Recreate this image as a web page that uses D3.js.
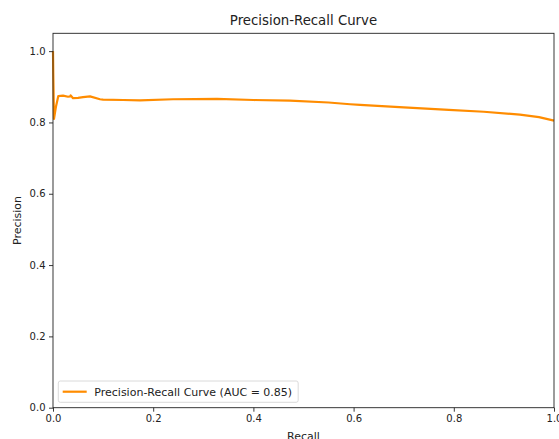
<!DOCTYPE html>
<html>
<head>
<meta charset="utf-8">
<script src="https://cdn.jsdelivr.net/npm/d3@7"></script>
<style>
  html, body { margin: 0; padding: 0; background: #fff; }
  svg { display: block; font-family: "DejaVu Sans", sans-serif; }
</style>
</head>
<body>
<svg id="chart" width="559" height="439"></svg>
<script>
// Curve points
const recall = [0, 0.0005, 0.002, 0.006, 0.0106, 0.02, 0.03, 0.035, 0.0353, 0.04, 0.05, 0.06, 0.0739, 0.0938, 0.1, 0.14, 0.1737, 0.2395, 0.3273, 0.4, 0.473, 0.55, 0.593, 0.613, 0.7, 0.79, 0.86, 0.932, 0.97, 1.0];
const precision = [1.0, 0.94, 0.81, 0.845, 0.874, 0.875, 0.872, 0.873, 0.876, 0.868, 0.869, 0.871, 0.873, 0.865, 0.864, 0.863, 0.862, 0.865, 0.866, 0.863, 0.861, 0.856, 0.851, 0.849, 0.842, 0.835, 0.83, 0.822, 0.815, 0.805];
const xTicks = [0.0, 0.2, 0.4, 0.6, 0.8, 1.0];
const yTicks = [0.0, 0.2, 0.4, 0.6, 0.8, 1.0];
const legendLabel = 'Precision-Recall Curve (AUC = 0.85)';

const svg = d3.select('#chart');
const margin = { left: 53, right: 5, top: 33.3, bottom: 31.3 };
const W = 559, H = 439;
const iw = W - margin.left - margin.right;
const ih = H - margin.top - margin.bottom;

const x = d3.scaleLinear().domain([0, 1]).range([margin.left, margin.left + iw]);
const y = d3.scaleLinear().domain([0, 1.05]).range([margin.top + ih, margin.top]);

// curve
const pts = recall.map((r, i) => [r, precision[i]]);
svg.append('path')
  .datum(pts)
  .attr('fill', 'none')
  .attr('stroke', '#ff8c00')
  .attr('stroke-width', 2.2)
  .attr('stroke-linejoin', 'round')
  .attr('d', d3.line().x(d => x(d[0])).y(d => y(d[1])));

// axes
const xAxis = d3.axisBottom(x).tickValues(xTicks).tickFormat(d3.format('.1f')).tickSize(4).tickPadding(3.5);
const yAxis = d3.axisLeft(y).tickValues(yTicks).tickFormat(d3.format('.1f')).tickSize(4).tickPadding(3.5);

const gx = svg.append('g').attr('transform', `translate(0,${margin.top + ih})`).call(xAxis);
const gy = svg.append('g').attr('transform', `translate(${margin.left},0)`).call(yAxis);
[gx, gy].forEach(a => {
  a.select('.domain').remove();
  a.selectAll('text').attr('font-size', 10).attr('fill', '#222').attr('font-family', 'DejaVu Sans');
  a.selectAll('line').attr('stroke', '#222').attr('stroke-width', 0.9);
});

// frame
svg.append('rect')
  .attr('x', margin.left).attr('y', margin.top)
  .attr('width', iw).attr('height', ih)
  .attr('fill', 'none').attr('stroke', '#222').attr('stroke-width', 0.9);

// title and labels
svg.append('text')
  .attr('x', margin.left + iw / 2).attr('y', 25)
  .attr('text-anchor', 'middle').attr('font-size', 13.3).attr('fill', '#222')
  .text('Precision-Recall Curve');

svg.append('text')
  .attr('x', margin.left + iw / 2).attr('y', 439.5)
  .attr('text-anchor', 'middle').attr('font-size', 11).attr('fill', '#222')
  .text('Recall');

svg.append('text')
  .attr('transform', `translate(20.5,${margin.top + ih / 2}) rotate(-90)`)
  .attr('text-anchor', 'middle').attr('font-size', 11).attr('fill', '#222')
  .text('Precision');

// legend
const lg = svg.append('g').attr('transform', `translate(${margin.left + 5.3},381)`);
const lt = lg.append('text')
  .attr('x', 36).attr('y', 14.6)
  .attr('font-size', 11).attr('fill', '#222')
  .text(legendLabel);
const tw = lt.node().getComputedTextLength();
lg.insert('rect', 'text')
  .attr('x', 0).attr('y', 0)
  .attr('width', 36 + tw + 6).attr('height', 21.3)
  .attr('rx', 2)
  .attr('fill', '#fff').attr('fill-opacity', 0.8)
  .attr('stroke', '#d0d0d0').attr('stroke-width', 0.8);
lg.append('line')
  .attr('x1', 4.4).attr('x2', 28.4).attr('y1', 10.7).attr('y2', 10.7)
  .attr('stroke', '#ff8c00').attr('stroke-width', 2.2);
</script>
</body>
</html>
